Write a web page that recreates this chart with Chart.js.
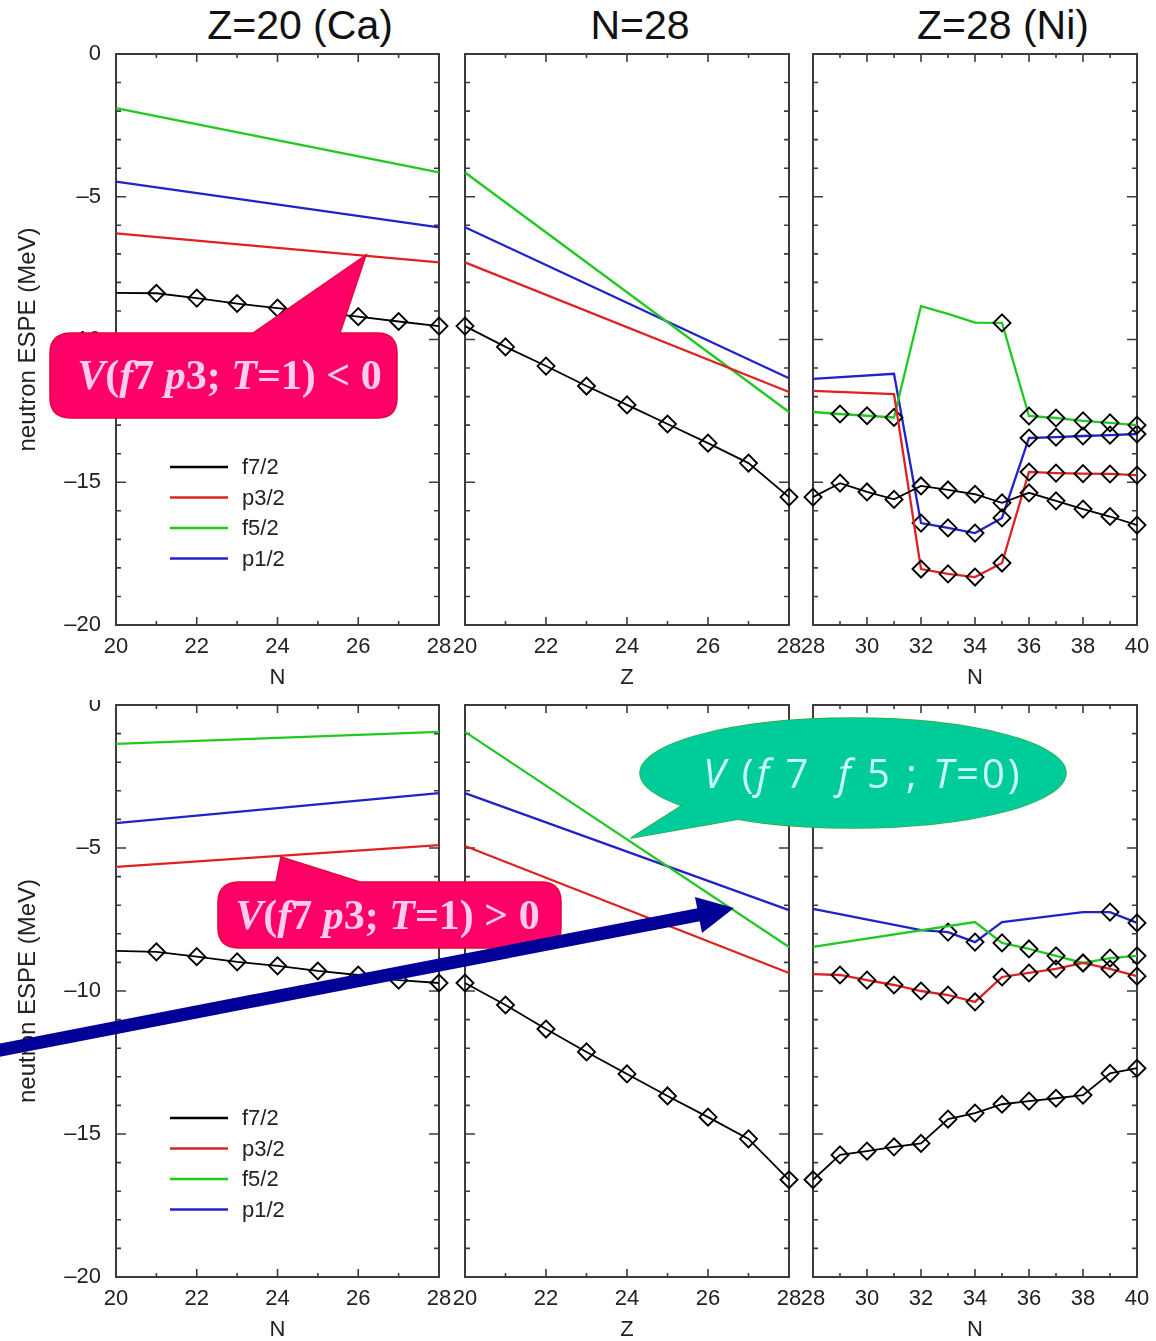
<!DOCTYPE html>
<html>
<head>
<meta charset="utf-8">
<script src="https://cdn.jsdelivr.net/npm/chart.js@4.4.1/dist/chart.umd.min.js"></script>
<style>
  html, body { margin: 0; padding: 0; width: 1156px; height: 1341px; overflow: hidden; background: #fff; }
  body { position: relative; font-family: "Liberation Sans", Arial, sans-serif; }
  canvas { position: absolute; }
  .title { position: absolute; top: 3px; width: 300px; font-size: 41px; line-height: 44px; text-align: center; color: #111; white-space: nowrap; }
  svg.over { position: absolute; left: 0; top: 0; }
  .callout { position: absolute; text-align: center; white-space: pre; }
  .pink { font-family: "Liberation Serif", "Times New Roman", serif; font-weight: bold; font-size: 42px; color: #ffccee; }
  .teal { font-family: "Open Sans", "DejaVu Sans", sans-serif; font-size: 40px; letter-spacing: 3px; color: #ccffff; }
</style>
</head>
<body>
<div class="title" style="left:150px">Z=20 (Ca)</div>
<div class="title" style="left:490px">N=28</div>
<div class="title" style="left:853px">Z=28 (Ni)</div>

<canvas id="up0"></canvas><canvas id="up1"></canvas><canvas id="up2"></canvas>
<canvas id="lo0"></canvas><canvas id="lo1"></canvas><canvas id="lo2"></canvas>

<svg class="over" width="1156" height="1341">
  <path d="M72,333 L253,333 L366,255 L340,333 L377,333 Q397,333 397,353 L397,398 Q397,418 377,418 L72,418 Q50,418 50,398 L50,353 Q50,333 72,333 Z"
        fill="#ff0066" stroke="#e8003a" stroke-width="1.5"/>
  <path d="M240,882 L276,882 L281,857 L360,882 L541,882 Q561,882 561,902 L561,928 Q561,948 541,948 L240,948 Q218,948 218,928 L218,902 Q218,882 240,882 Z"
        fill="#ff0066" stroke="#e8003a" stroke-width="1.5"/>
  <g stroke="#33aa44" stroke-width="1.5" fill="none">
    <ellipse cx="853" cy="773" rx="213" ry="55"/>
    <polygon points="683,805 631,838 745,818"/>
  </g>
  <g fill="#00cc99">
    <ellipse cx="853" cy="773" rx="213" ry="55"/>
    <polygon points="683,805 631,838 745,818"/>
  </g>
  <line x1="-5" y1="1051" x2="700" y2="914.5" stroke="#000099" stroke-width="13"/>
  <polygon points="734,908 695,897 702,933" fill="#000099"/>
</svg>

<div class="callout pink" style="left:56px;top:333px;width:347px;height:85px;line-height:85px"><i>V</i>(<i>f</i>7 <i>p</i>3; <i>T</i>=1) &lt; 0</div>
<div class="callout pink" style="left:216px;top:882px;width:343px;height:66px;line-height:66px"><i>V</i>(<i>f</i>7 <i>p</i>3; <i>T</i>=1) &gt; 0</div>
<div class="callout teal" style="left:650px;top:718px;width:426px;height:110px;line-height:110px"><i>V</i> (<i>f</i> 7  <i>f</i> 5 ; <i>T</i>=0)</div>

<script>
Chart.defaults.font.family = "'Liberation Sans', Arial, sans-serif";
Chart.defaults.color = "#222";

const ORBITALS = ["f7/2", "p3/2", "f5/2", "p1/2"];
const COLORS = ["#000000", "#dd2222", "#22c822", "#2222c8"];

// x values
const caN = [20, 21, 22, 23, 24, 25, 26, 27, 28];
const n28Z = [20, 21, 22, 23, 24, 25, 26, 27, 28];
const niN = [28, 29, 30, 31, 32, 33, 34, 35, 36, 37, 38, 39, 40];
const ends = [20, 28];

// upper row: V(f7 p3; T=1) < 0
const caUpF7 = [-8.37, -8.38, -8.55, -8.74, -8.9, -9.05, -9.2, -9.37, -9.53];
const caUpP3 = [-6.28, -7.3];
const caUpF5 = [-1.9, -4.15];
const caUpP1 = [-4.47, -6.07];

const n28UpF7 = [-9.53, -10.26, -10.93, -11.63, -12.29, -12.96, -13.63, -14.33, -15.52];
const n28UpP3 = [-7.3, -11.84];
const n28UpF5 = [-4.15, -12.54];
const n28UpP1 = [-6.07, -11.36];

const niUpF7 = [-15.52, -15.03, -15.34, -15.6, -15.13, -15.27, -15.42, -15.72, -15.37, -15.65, -15.94, -16.2, -16.5];
const niUpSplitN = [28, 31, 32, 33, 34, 35, 36, 37, 38, 39, 40];
const niUpP3 = [-11.8, -11.91, -18.04, -18.21, -18.32, -17.83, -14.64, -14.68, -14.7, -14.71, -14.75];
const niUpF5 = [-12.54, -12.61, -12.67, -12.73, -8.83, -9.1, -9.41, -9.42, -12.68, -12.75, -12.85, -12.92, -13.0];
const niUpP1 = [-11.38, -11.2, -16.43, -16.6, -16.78, -16.25, -13.45, -13.42, -13.38, -13.35, -13.31];

// lower row: V(f7 p3; T=1) > 0
const caLoF7 = [-8.6, -8.63, -8.8, -8.98, -9.12, -9.3, -9.44, -9.62, -9.72];
const caLoP3 = [-5.66, -4.9];
const caLoF5 = [-1.36, -0.94];
const caLoP1 = [-4.13, -3.08];

const n28LoF7 = [-9.72, -10.49, -11.33, -12.13, -12.9, -13.67, -14.41, -15.17, -16.6];
const n28LoP3 = [-4.93, -9.37];
const n28LoF5 = [-0.94, -8.46];
const n28LoP1 = [-3.08, -7.17];

const niLoF7 = [-16.6, -15.73, -15.6, -15.45, -15.33, -14.48, -14.27, -13.96, -13.85, -13.75, -13.64, -12.88, -12.7];
const niLoP3 = [-9.41, -9.44, -9.62, -9.79, -10.0, -10.14, -10.38, -9.51, -9.37, -9.23, -9.02, -9.23, -9.48];
const niLoF5N = [28, 34, 35, 36, 37, 38, 39, 40];
const niLoF5 = [-8.46, -7.59, -8.32, -8.53, -8.77, -9.02, -8.85, -8.77];
const niLoP1N = [28, 32, 33, 34, 35, 38, 39, 40];
const niLoP1 = [-7.13, -7.87, -7.94, -8.29, -7.59, -7.24, -7.24, -7.62];

// which points carry a diamond
const caMarks = [21, 22, 23, 24, 25, 26, 27, 28];
const niUpF5Marks = [29, 30, 31, 35, 36, 37, 38, 39, 40];
const niUpP3Marks = [32, 33, 34, 35, 36, 37, 38, 39, 40];
const niLoP3Marks = [29, 30, 31, 32, 33, 34, 35, 36, 37, 38, 39, 40];
const niLoF5Marks = [35, 36, 37, 38, 39, 40];
const niLoP1Marks = [33, 34, 39, 40];

// each panel: [xs, ys, marks] for f7, p3, f5, p1
const panels = {
  up0: [[caN, caUpF7, caMarks], [ends, caUpP3, []], [ends, caUpF5, []], [ends, caUpP1, []]],
  up1: [[n28Z, n28UpF7, n28Z], [ends, n28UpP3, []], [ends, n28UpF5, []], [ends, n28UpP1, []]],
  up2: [[niN, niUpF7, niN], [niUpSplitN, niUpP3, niUpP3Marks], [niN, niUpF5, niUpF5Marks], [niUpSplitN, niUpP1, niUpP3Marks]],
  lo0: [[caN, caLoF7, caMarks], [ends, caLoP3, []], [ends, caLoF5, []], [ends, caLoP1, []]],
  lo1: [[n28Z, n28LoF7, n28Z], [ends, n28LoP3, []], [ends, n28LoF5, []], [ends, n28LoP1, []]],
  lo2: [[niN, niLoF7, niN], [niN, niLoP3, niLoP3Marks], [niLoF5N, niLoF5, niLoF5Marks], [niLoP1N, niLoP1, niLoP1Marks]]
};

const rows = {
  up: { top: 0, height: 700, padTop: 54, xAxisH: 75, titlePad: 8.8 },
  lo: { top: 700, height: 650, padTop: 5, xAxisH: 73, titlePad: 6.8 }
};
const cols = [
  { left: 0, width: 470, yAxisW: 116, padRight: 31, xTitle: "N", min: 20, max: 28 },
  { left: 445, width: 365, yAxisW: 20, padRight: 21, xTitle: "Z", min: 20, max: 28 },
  { left: 793, width: 363, yAxisW: 20, padRight: 19, xTitle: "N", min: 28, max: 40 }
];

// frame with inward ticks on all four sides
const frameTicks = {
  id: "frameTicks",
  beforeDatasetsDraw(chart) {
    const { ctx, chartArea: a, scales: { x, y } } = chart;
    ctx.save();
    ctx.strokeStyle = "#3c3c3c";
    ctx.lineWidth = 1.6;
    ctx.beginPath();
    for (let v = x.min; v <= x.max; v++) {
      const px = x.getPixelForValue(v);
      const len = v % 2 === 0 ? 8 : 4;
      ctx.moveTo(px, a.bottom); ctx.lineTo(px, a.bottom - len);
      ctx.moveTo(px, a.top); ctx.lineTo(px, a.top + len);
    }
    for (let v = y.min; v <= y.max; v++) {
      const py = y.getPixelForValue(v);
      const len = v % 5 === 0 ? 10 : 5;
      ctx.moveTo(a.left, py); ctx.lineTo(a.left + len, py);
      ctx.moveTo(a.right, py); ctx.lineTo(a.right - len, py);
    }
    ctx.stroke();
    ctx.lineWidth = 2;
    ctx.strokeRect(a.left, a.top, a.width, a.height);
    ctx.restore();
  }
};

// key drawn inside the first panel of each row
const keyBox = {
  id: "keyBox",
  afterDraw(chart, args, opts) {
    if (!opts.show) return;
    const { ctx, chartArea: a } = chart;
    ctx.save();
    ctx.font = "22px 'Liberation Sans', Arial, sans-serif";
    ctx.textBaseline = "middle";
    ctx.fillStyle = "#222";
    chart.data.datasets.forEach(function (ds, i) {
      const y = a.top + 413 + i * 30.5;
      ctx.strokeStyle = ds.borderColor;
      ctx.lineWidth = 2.4;
      ctx.beginPath();
      ctx.moveTo(a.left + 54, y);
      ctx.lineTo(a.left + 112, y);
      ctx.stroke();
      ctx.fillText(ds.label, a.left + 126, y + 1);
    });
    ctx.restore();
  }
};

function lineSet(i, xs, ys, marks) {
  return {
    label: ORBITALS[i],
    data: xs.map(function (x, k) { return { x: x, y: ys[k] }; }),
    borderColor: COLORS[i],
    borderWidth: i === 0 ? 1.8 : 2.3,
    tension: 0,
    pointStyle: "rectRot",
    pointRadius: xs.map(function (x) { return marks.includes(x) ? 8.5 : 0; }),
    pointHoverRadius: 0,
    pointBorderColor: "#000",
    pointBackgroundColor: "rgba(0,0,0,0)",
    pointBorderWidth: 1.9,
    clip: false
  };
}

function makePanel(id) {
  const row = rows[id.slice(0, 2)];
  const colIndex = Number(id.slice(2));
  const col = cols[colIndex];
  const canvas = document.getElementById(id);
  canvas.width = col.width;
  canvas.height = row.height;
  canvas.style.left = col.left + "px";
  canvas.style.top = row.top + "px";
  const first = colIndex === 0;

  const datasets = panels[id].map(function (p, i) { return lineSet(i, p[0], p[1], p[2]); });

  return new Chart(canvas, {
    type: "line",
    data: { datasets: datasets },
    plugins: [frameTicks, keyBox],
    options: {
      responsive: false,
      animation: false,
      devicePixelRatio: 1,
      events: [],
      layout: { autoPadding: false, padding: { top: row.padTop, right: col.padRight, bottom: 0, left: 0 } },
      plugins: {
        legend: { display: false },
        tooltip: { enabled: false },
        keyBox: { show: first }
      },
      scales: {
        x: {
          type: "linear",
          min: col.min,
          max: col.max,
          grid: { display: false, drawTicks: false },
          border: { display: false },
          ticks: { stepSize: 2, padding: 9, maxRotation: 0, autoSkip: false, font: { size: 22 } },
          title: { display: true, text: col.xTitle, font: { size: 22 }, padding: { top: 0, bottom: row.titlePad } },
          afterFit: function (s) { s.height = row.xAxisH; s.paddingLeft = 0; s.paddingRight = 0; }
        },
        y: {
          type: "linear",
          min: -20,
          max: 0,
          grid: { display: false, drawTicks: false },
          border: { display: false },
          ticks: {
            display: first,
            stepSize: 5,
            padding: 15,
            font: { size: 22 },
            callback: function (v) { return v < 0 ? "\u2013" + (-v) : String(v); }
          },
          title: { display: first, text: "neutron ESPE (MeV)", font: { size: 24 }, padding: { top: 14, bottom: 0 } },
          afterFit: function (s) { s.width = col.yAxisW; s.paddingTop = 0; s.paddingBottom = 0; }
        }
      }
    }
  });
}

Object.keys(panels).forEach(makePanel);
</script>
</body>
</html>
